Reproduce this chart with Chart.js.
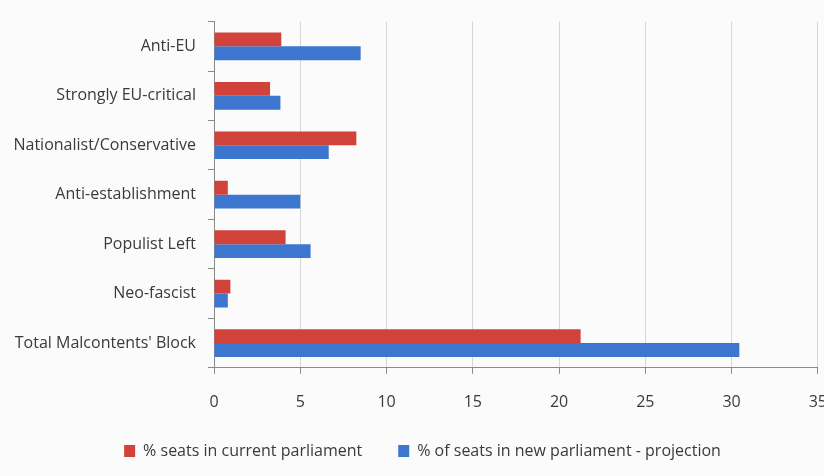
<!DOCTYPE html>
<html lang="en">
<head>
    <meta charset="UTF-8">
    <title>Malcontents' Block</title>
    <script src="https://cdn.jsdelivr.net/npm/chart.js"></script>
    <style>
        body {
            margin: 0;
            padding: 0;
            background-color: #fbfbfb;
            overflow: hidden;
        }

        .wrap {
            width: 846px;
            height: 476px;
        }
    </style>
</head>
<body>

<div class="wrap">
    <canvas id="blockChart" width="846" height="476"></canvas>
</div>

<script>
    // categories and values
    var groups = ['Anti-EU', 'Strongly EU-critical', 'Nationalist/Conservative', 'Anti-establishment', 'Populist Left', 'Neo-fascist', "Total Malcontents' Block"];
    var currentSeats = [3.9, 3.25, 8.25, 0.8, 4.15, 0.95, 21.25];
    var projectedSeats = [8.5, 3.85, 6.65, 5.0, 5.6, 0.8, 30.45];
    var seriesNames = ['% seats in current parliament', '% of seats in new parliament - projection'];

    var labelFont = { family: "'Open Sans', sans-serif", size: 16 };

    var ctx = document.getElementById('blockChart').getContext('2d');
    var blockChart = new Chart(ctx, {
        type: 'bar',
        data: {
            labels: groups,
            datasets: [{
                label: seriesNames[0],
                data: currentSeats,
                backgroundColor: '#d0423a',
                borderWidth: 0
            }, {
                label: seriesNames[1],
                data: projectedSeats,
                backgroundColor: '#3d76cf',
                borderWidth: 0
            }]
        },
        options: {
            indexAxis: 'y',
            responsive: false,
            animation: false,
            categoryPercentage: 0.56,
            barPercentage: 1.0,
            layout: {
                padding: { top: 19, right: 1, bottom: 7, left: 0 }
            },
            scales: {
                x: {
                    min: 0,
                    max: 35,
                    ticks: { stepSize: 5, color: '#3a3a3a', font: labelFont, padding: 19 },
                    grid: {
                        color: function (c) { return c.index === 0 ? 'rgba(0,0,0,0)' : '#d6d6d6'; },
                        tickColor: '#8a8a8a',
                        tickLength: 6
                    },
                    border: { color: '#8a8a8a' },
                    // wide legend padding eats height, give some back here
                    afterFit: function (scale) { scale.height -= 24; }
                },
                y: {
                    ticks: { color: '#3a3a3a', font: labelFont, padding: 12 },
                    grid: {
                        offset: true,
                        drawOnChartArea: false,
                        tickColor: '#8a8a8a',
                        tickLength: 6
                    },
                    border: { color: '#8a8a8a' },
                    afterFit: function (scale) { scale.width = 214; }
                }
            },
            plugins: {
                legend: {
                    position: 'bottom',
                    labels: {
                        color: '#3a3a3a',
                        font: labelFont,
                        boxWidth: 11,
                        boxHeight: 12,
                        padding: 36
                    }
                },
                tooltip: { enabled: false }
            }
        }
    });
</script>
</body>
</html>
